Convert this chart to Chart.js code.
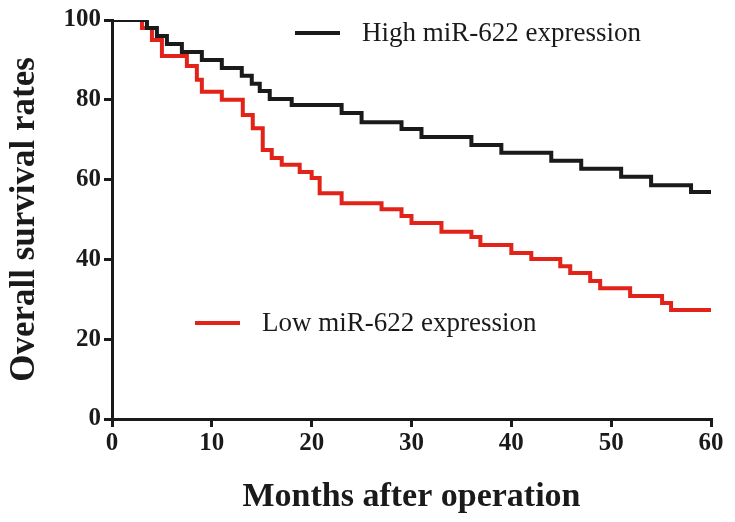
<!DOCTYPE html>
<html>
<head>
<meta charset="utf-8">
<script src="https://cdn.jsdelivr.net/npm/chart.js@4"></script>
<style>
  html, body { margin: 0; padding: 0; background: #fff; }
  #wrap { width: 735px; height: 522px; }
</style>
</head>
<body>
<div id="wrap"><canvas id="km"></canvas></div>
<script>
// Kaplan-Meier steps: month of event and survival (%) right after it
const highMonths = [0, 3.5, 4.5, 5.5, 7, 9, 11, 13, 14, 14.8, 15.8, 18, 23, 25, 29, 31, 36, 39, 44, 47, 51, 54, 58, 60];
const highSurvival = [100, 98, 96, 94, 92, 90, 88, 86, 84, 82.2, 80.2, 78.7, 76.7, 74.4, 72.7, 70.7, 68.7, 66.7, 64.7, 62.7, 60.7, 58.6, 56.9, 56.9];

const lowMonths = [0, 3, 4, 5, 7.5, 8.5, 9, 11, 13.1, 14.1, 15.1, 16, 17, 18.8, 20, 20.8, 23, 27, 29, 30, 33, 36, 36.9, 40, 42, 44.9, 45.9, 47.9, 48.9, 51.9, 55.1, 56, 60];
const lowSurvival = [100, 98, 95, 91, 88.5, 85, 82, 80, 76.2, 72.9, 67.4, 65.4, 63.7, 61.9, 60.4, 56.6, 54.1, 52.6, 50.9, 49.1, 46.9, 45.6, 43.6, 41.6, 40.1, 38.3, 36.6, 34.6, 32.8, 30.8, 29.1, 27.3, 27.3];

const seriesNames = ["High miR-622 expression", "Low miR-622 expression"];
const seriesColors = ["#1a1a1a", "#e2231a"];
const xTicks = [0, 10, 20, 30, 40, 50, 60];
const yTicks = [0, 20, 40, 60, 80, 100];

const toPoints = (xs, ys) => xs.map((x, i) => ({ x: x, y: ys[i] }));

const serif = "'Liberation Serif', 'Times New Roman', serif";
const ink = "#1a1a1a";

// Legend entries sit inside the plot, drawn by hand
const inlineLegend = {
  id: "inlineLegend",
  afterDraw(chart) {
    const { ctx, chartArea } = chart;
    const spots = [
      { x: chartArea.left + 183, y: 33 },
      { x: chartArea.left + 83, y: 323 },
    ];
    ctx.save();
    ctx.font = "27px " + serif;
    ctx.textBaseline = "middle";
    spots.forEach((s, i) => {
      ctx.strokeStyle = seriesColors[i];
      ctx.lineWidth = 4;
      ctx.beginPath();
      ctx.moveTo(s.x, s.y);
      ctx.lineTo(s.x + 45, s.y);
      ctx.stroke();
      ctx.fillStyle = ink;
      ctx.fillText(seriesNames[i], s.x + 67, s.y + 1);
    });
    ctx.restore();
  },
};

const axisStyle = {
  border: { color: ink, width: 3 },
  grid: { display: true, drawOnChartArea: false, drawTicks: true, tickLength: 8, color: ink, lineWidth: 3 },
};

new Chart(document.getElementById("km"), {
  type: "line",
  data: {
    datasets: [
      {
        label: seriesNames[0],
        data: toPoints(highMonths, highSurvival),
        borderColor: seriesColors[0],
        borderWidth: 4,
        stepped: "before",
        pointRadius: 0,
        fill: false,
      },
      {
        label: seriesNames[1],
        data: toPoints(lowMonths, lowSurvival),
        borderColor: seriesColors[1],
        borderWidth: 4,
        stepped: "before",
        pointRadius: 0,
        fill: false,
      },
    ],
  },
  options: {
    responsive: true,
    maintainAspectRatio: false,
    animation: false,
    layout: { padding: { left: 0, top: 20, right: 24, bottom: 0 } },
    plugins: { legend: { display: false }, tooltip: { enabled: false } },
    scales: {
      x: {
        type: "linear",
        min: 0,
        max: 60,
        afterBuildTicks: (scale) => { scale.ticks = xTicks.map((v) => ({ value: v })); },
        afterFit: (scale) => { scale.height = 103; },
        ticks: { color: ink, font: { family: serif, size: 25, weight: "bold" }, padding: 2, maxRotation: 0 },
        title: { display: true, text: "Months after operation", color: ink, font: { family: serif, size: 34, weight: "bold" }, padding: { top: 6 } },
        ...axisStyle,
      },
      y: {
        min: 0,
        max: 100,
        afterBuildTicks: (scale) => { scale.ticks = yTicks.map((v) => ({ value: v })); },
        afterFit: (scale) => { scale.width = 112; },
        ticks: { color: ink, font: { family: serif, size: 25, weight: "bold" }, padding: 3 },
        title: { display: true, text: "Overall survival rates", color: ink, font: { family: serif, size: 35, weight: "bold" }, padding: { top: 4, bottom: 0 } },
        ...axisStyle,
      },
    },
  },
  plugins: [inlineLegend],
});
</script>
</body>
</html>
